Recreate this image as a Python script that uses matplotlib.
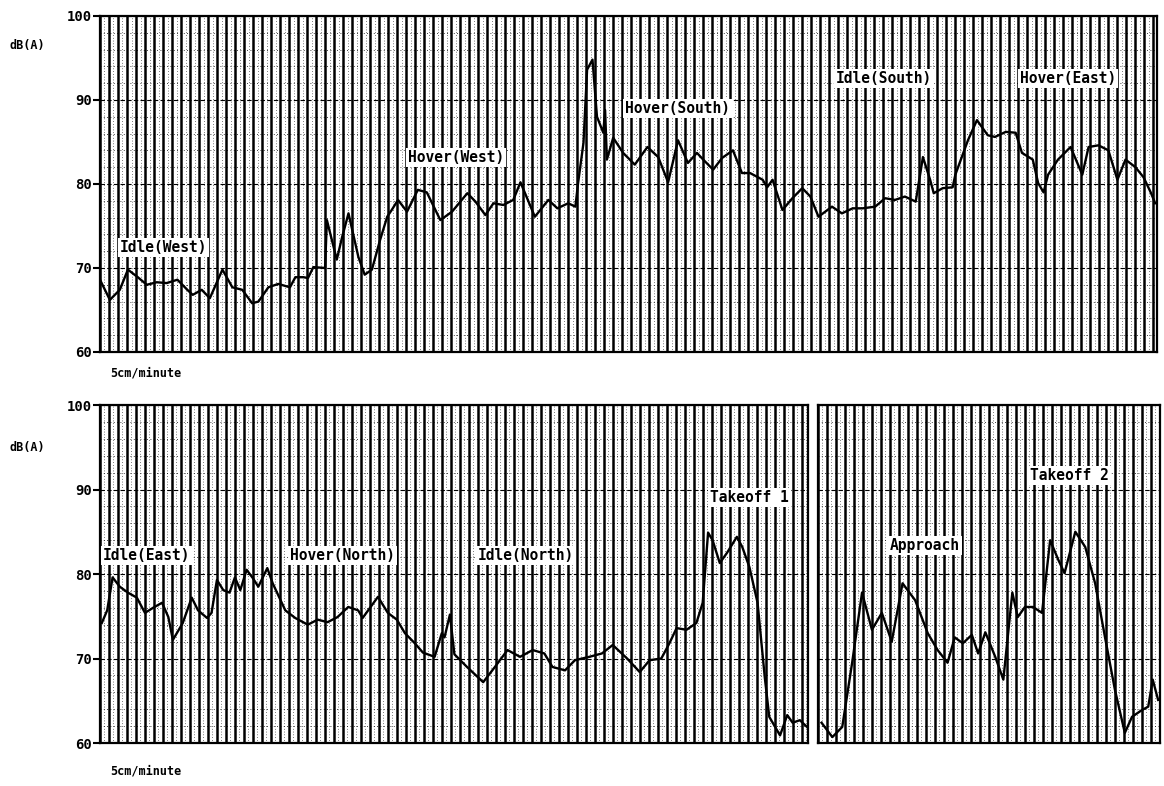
#!/usr/bin/env python3
# -*- coding: utf-8 -*-

import numpy as np
import matplotlib
matplotlib.use("Agg")
import matplotlib.pyplot as plt

# x positions are chart-paper divisions (5cm/minute paper), y is dB(A)
top_x = [0, 1.1, 2.2, 3.1, 4.2, 5.2, 6.3, 7.4, 8.6, 9.7, 10.3, 11.3, 12.2,
         13.6, 14.7, 15.8, 16.9, 17.6, 18.7, 19.8, 21.1, 21.7, 22.6, 23.1,
         23.7, 25.0, 25.2, 26.3, 26.9, 27.6, 28.7, 29.4, 30.2, 31.1, 31.9,
         32.4, 33.1, 34.1, 35.3, 36.3, 37.8, 39.1,
         40.8, 41.7, 42.8, 43.7, 44.8, 45.9, 46.7, 48.3, 49.8, 50.8, 52.0,
         52.8, 53.1, 53.7, 54.1, 54.7, 55.2, 55.9, 56.1, 56.3, 57.0, 58.1,
         59.4, 60.8, 62.0, 63.1, 64.2, 65.3, 66.3, 67.0, 68.1, 69.1, 70.3,
         71.3, 72.2, 73.6, 74.1, 74.7, 75.8, 76.9, 78.0, 78.9,
         79.8, 81.3, 82.4, 83.6, 84.7, 86.1, 87.2, 88.3, 89.4, 90.6, 91.4,
         92.2, 92.6, 93.6, 94.7, 95.0, 96.4, 97.4, 98.6, 99.4, 100.6, 101.7,
         102.4, 103.6, 104.2, 104.8, 105.3, 106.4, 107.8, 109.1, 109.8,
         110.9, 112.0, 113.0, 113.9, 115.0, 115.9, 116.7, 117.2]
top_db = [68.6, 66.2, 67.4, 69.8, 68.9, 68.0, 68.3, 68.2, 68.6, 67.4, 66.8,
          67.4, 66.4, 69.8, 67.7, 67.4, 65.8, 66.0, 67.7, 68.1, 67.7, 68.9,
          68.9, 68.8, 70.1, 70.0, 75.7, 71.0, 73.7, 76.5, 71.3, 69.2, 69.8,
          73.3, 76.1, 76.9, 78.1, 76.7, 79.3, 79.0, 75.7, 76.7,
          78.9, 77.9, 76.3, 77.7, 77.5, 78.1, 80.2, 76.1, 78.1, 77.1, 77.7,
          77.3, 80.1, 84.9, 93.6, 94.8, 88.0, 86.1, 88.8, 82.9, 85.5, 83.7,
          82.3, 84.4, 83.2, 80.2, 85.2, 82.5, 83.7, 82.9, 81.7, 83.1, 84.0,
          81.3, 81.3, 80.5, 79.6, 80.5, 76.9, 78.3, 79.5, 78.5,
          76.1, 77.3, 76.5, 77.1, 77.1, 77.3, 78.3, 78.1, 78.5, 77.9, 83.2,
          80.5, 78.9, 79.5, 79.6, 81.1, 85.2, 87.6, 85.8, 85.6, 86.2, 86.1,
          83.7, 82.9, 80.1, 79.0, 81.1, 82.9, 84.4, 81.1, 84.4, 84.6, 84.0,
          80.5, 82.9, 82.0, 80.8, 79.0, 77.7]

low_x = [0.2, 0.8, 1.4, 2.2, 3.1, 4.1, 5.0, 5.9, 6.9, 7.6, 8.1, 9.2, 10.2,
         10.9, 11.9, 12.4, 13.0, 13.7, 14.4, 15.0, 15.6, 16.3, 17.0, 17.6,
         18.6, 19.2, 20.6, 21.7, 23.1, 24.2, 25.3, 26.4, 27.6, 28.7, 29.2,
         30.9, 32.0, 33.0, 33.9, 35.0, 35.9, 37.2, 38.0, 38.3, 38.9, 39.4,
         40.8, 42.6, 43.9, 45.3, 46.7, 48.1, 49.4, 50.3, 51.7, 52.8, 54.4,
         55.8, 57.0, 58.6, 60.0, 61.1, 62.4, 63.3, 64.1, 65.2, 66.3, 67.0,
         67.6, 68.1, 68.9, 69.7, 70.8, 71.4, 72.2, 73.1, 73.9, 74.4, 75.6,
         76.4, 77.0, 77.8, 78.6]
low_db = [74.2, 75.7, 79.6, 78.5, 77.8, 77.2, 75.4, 76.0, 76.6, 74.9, 72.2,
          74.2, 77.2, 75.7, 74.8, 75.4, 79.3, 78.1, 77.8, 79.6, 78.1, 80.5,
          79.5, 78.5, 80.7, 78.9, 75.7, 74.8, 74.0, 74.6, 74.3, 74.9, 76.1,
          75.7, 74.8, 77.3, 75.4, 74.6, 73.0, 71.8, 70.7, 70.2, 73.0, 72.5,
          75.2, 70.5, 69.0, 67.2, 69.0, 71.0, 70.2, 71.0, 70.6, 69.0, 68.6,
          69.8, 70.2, 70.6, 71.6, 70.0, 68.4, 69.8, 70.0, 71.8, 73.6, 73.4,
          74.2, 76.6, 84.9, 84.0, 81.3, 82.5, 84.4, 83.2, 80.8, 76.6, 67.8,
          63.1, 60.9, 63.3, 62.4, 62.7, 61.9]

end_x = [0.4, 1.6, 2.7, 3.8, 4.9, 6.0, 7.1, 8.2, 9.4, 10.8, 12.2, 13.3, 14.4,
         15.2, 16.1, 17.1, 17.8, 18.6, 19.7, 20.6, 21.6, 22.2, 23.0, 23.9,
         24.9, 25.8, 26.7, 27.4, 28.6, 29.7, 30.8, 31.9, 33.0, 34.1, 34.9,
         36.0, 36.7, 37.2, 37.8]
end_db = [62.4, 60.7, 61.9, 69.5, 77.8, 73.4, 75.4, 72.0, 78.9, 76.9, 73.0,
          71.0, 69.5, 72.5, 71.8, 72.8, 70.6, 73.1, 70.2, 67.5, 77.8, 74.9,
          76.1, 76.1, 75.4, 84.0, 81.7, 80.1, 85.0, 83.2, 78.9, 72.5, 66.3,
          61.2, 63.1, 63.9, 64.3, 67.5, 65.1]

top_labels = [("Idle(West)", 2.2, 72.4), ("Hover(West)", 34.2, 83.1),
              ("Hover(South)", 58.3, 89.0), ("Idle(South)", 81.7, 92.6),
              ("Hover(East)", 102.2, 92.6)]
low_labels = [("Idle(East)", 0.3, 82.2), ("Hover(North)", 21.1, 82.2),
              ("Idle(North)", 42.0, 82.2), ("Takeoff 1", 67.8, 89.1)]
end_labels = [("Approach", 8.0, 83.4), ("Takeoff 2", 23.6, 91.7)]

FONT = "DejaVu Sans Mono"


def chart_paper(ax, xmax, ticks=True):
    ax.set_xlim(0, xmax)
    ax.set_ylim(60, 100)
    ax.set_xticks(np.arange(0, xmax + 0.01, 1))
    ax.set_xticks(np.arange(0.5, xmax, 1), minor=True)
    ax.set_yticks(np.arange(60, 101, 10))
    ax.set_yticks(np.arange(60, 101, 2), minor=True)
    ax.grid(axis="x", which="major", color="k", lw=1.8)
    ax.grid(axis="x", which="minor", color="k", lw=0.5, ls=(0, (1, 3)))
    ax.grid(axis="y", which="major", color="k", lw=0.8, ls=(0, (4, 2)))
    ax.grid(axis="y", which="minor", color="k", lw=0.6, ls=(0, (1, 3)))
    ax.set_axisbelow(True)
    ax.tick_params(axis="x", which="both", length=0, labelbottom=False)
    ax.tick_params(axis="y", which="minor", length=0)
    if ticks:
        ax.tick_params(axis="y", which="major", length=5, width=1.5,
                       direction="out", pad=1, labelsize=10)
        ax.set_yticklabels(["60", "70", "80", "90", "100"],
                           family=FONT, weight="bold")
    else:
        ax.tick_params(axis="y", which="major", length=0, labelleft=False)
    for s in ax.spines.values():
        s.set_linewidth(1.6)


def put_labels(ax, labels):
    for txt, x, y in labels:
        ax.text(x, y, txt, family=FONT, weight="bold", fontsize=10.5,
                ha="left", va="center", zorder=5,
                bbox=dict(facecolor="white", edgecolor="none", pad=1.5))


fig = plt.figure(figsize=(11.64, 7.86), dpi=100)
ax1 = fig.add_axes([0.0859, 0.5522, 0.9081, 0.4275])
ax2 = fig.add_axes([0.0859, 0.0547, 0.6082, 0.4300])
ax3 = fig.add_axes([0.7027, 0.0547, 0.2938, 0.4300])

chart_paper(ax1, 117.4)
chart_paper(ax2, 78.7)
chart_paper(ax3, 38.0, ticks=False)

ax1.plot(top_x, top_db, color="k", lw=1.7, zorder=4)
ax2.plot(low_x, low_db, color="k", lw=1.7, zorder=4)
ax3.plot(end_x, end_db, color="k", lw=1.7, zorder=4)

put_labels(ax1, top_labels)
put_labels(ax2, low_labels)
put_labels(ax3, end_labels)

for yl in [0.938, 0.426]:
    fig.text(0.008, yl, "dB(A)", family=FONT, weight="bold", fontsize=8.5)
for yl in [0.521, 0.015]:
    fig.text(0.095, yl, "5cm/minute", family=FONT, weight="bold",
             fontsize=8.5)

fig.savefig("out.png", dpi=100, facecolor="white")
